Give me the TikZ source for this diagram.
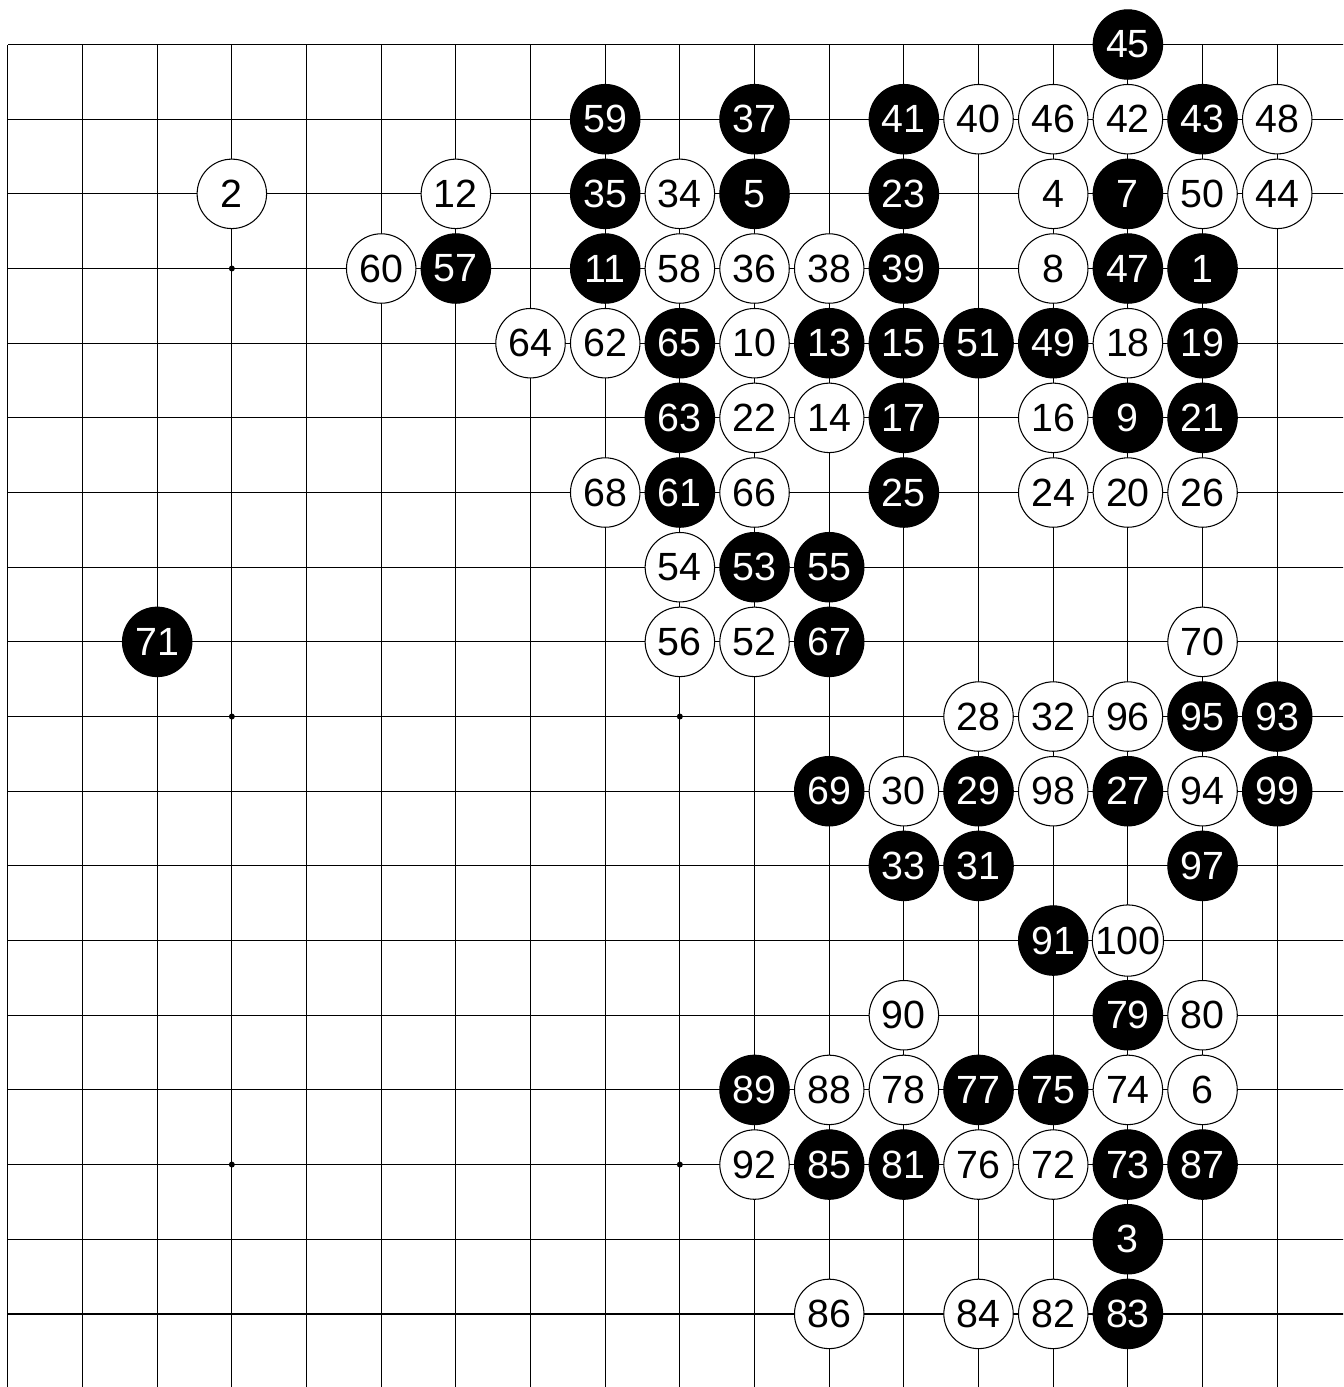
\documentclass[tikz,border=0pt]{standalone}
\usepackage{fontspec}
\setmainfont{Liberation Sans}

\begin{document}
\begin{tikzpicture}

\tikzset{
  board line/.style={
    line width=0.45pt,
  },
  stone/.style={
    circle,
    minimum size=0.93cm,
    inner sep=0pt,
    line width=0.4pt,
    draw=black,
    font=\fontsize{15}{18}\selectfont,
  },
  black stone/.style={stone, fill=black, text=white},
  white stone/.style={stone, fill=white, text=black},
}

% Frame and board
\useasboundingbox (-0.105,0.596) rectangle (17.883,-17.979);
\clip (-0.105,0.596) rectangle (17.883,-17.979);
\draw[board line] (0,-18) grid (18,0);

% Star points
\fill (3,-3) circle (0.04);
\fill (3,-9) circle (0.04);
\fill (9,-9) circle (0.04);
\fill (3,-15) circle (0.04);
\fill (9,-15) circle (0.04);

% Row 0
\node[black stone] (m45) at (15,0) {45};

% Row 1
\node[black stone] (m59) at (8,-1)  {59};
\node[black stone] (m37) at (10,-1) {37};
\node[black stone] (m41) at (12,-1) {41};
\node[white stone] (m40) at (13,-1) {40};
\node[white stone] (m46) at (14,-1) {46};
\node[white stone] (m42) at (15,-1) {42};
\node[black stone] (m43) at (16,-1) {43};
\node[white stone] (m48) at (17,-1) {48};

% Row 2
\node[white stone] (m2)  at (3,-2)  {2};
\node[white stone] (m12) at (6,-2)  {12};
\node[black stone] (m35) at (8,-2)  {35};
\node[white stone] (m34) at (9,-2)  {34};
\node[black stone] (m5)  at (10,-2) {5};
\node[black stone] (m23) at (12,-2) {23};
\node[white stone] (m4)  at (14,-2) {4};
\node[black stone] (m7)  at (15,-2) {7};
\node[white stone] (m50) at (16,-2) {50};
\node[white stone] (m44) at (17,-2) {44};

% Row 3
\node[white stone] (m60) at (5,-3)  {60};
\node[black stone] (m57) at (6,-3)  {57};
\node[black stone] (m11) at (8,-3)  {11};
\node[white stone] (m58) at (9,-3)  {58};
\node[white stone] (m36) at (10,-3) {36};
\node[white stone] (m38) at (11,-3) {38};
\node[black stone] (m39) at (12,-3) {39};
\node[white stone] (m8)  at (14,-3) {8};
\node[black stone] (m47) at (15,-3) {47};
\node[black stone] (m1)  at (16,-3) {1};

% Row 4
\node[white stone] (m64) at (7,-4)  {64};
\node[white stone] (m62) at (8,-4)  {62};
\node[black stone] (m65) at (9,-4)  {65};
\node[white stone] (m10) at (10,-4) {10};
\node[black stone] (m13) at (11,-4) {13};
\node[black stone] (m15) at (12,-4) {15};
\node[black stone] (m51) at (13,-4) {51};
\node[black stone] (m49) at (14,-4) {49};
\node[white stone] (m18) at (15,-4) {18};
\node[black stone] (m19) at (16,-4) {19};

% Row 5
\node[black stone] (m63) at (9,-5)  {63};
\node[white stone] (m22) at (10,-5) {22};
\node[white stone] (m14) at (11,-5) {14};
\node[black stone] (m17) at (12,-5) {17};
\node[white stone] (m16) at (14,-5) {16};
\node[black stone] (m9)  at (15,-5) {9};
\node[black stone] (m21) at (16,-5) {21};

% Row 6
\node[white stone] (m68) at (8,-6)  {68};
\node[black stone] (m61) at (9,-6)  {61};
\node[white stone] (m66) at (10,-6) {66};
\node[black stone] (m25) at (12,-6) {25};
\node[white stone] (m24) at (14,-6) {24};
\node[white stone] (m20) at (15,-6) {20};
\node[white stone] (m26) at (16,-6) {26};

% Row 7
\node[white stone] (m54) at (9,-7)  {54};
\node[black stone] (m53) at (10,-7) {53};
\node[black stone] (m55) at (11,-7) {55};

% Row 8
\node[black stone] (m71) at (2,-8)  {71};
\node[white stone] (m56) at (9,-8)  {56};
\node[white stone] (m52) at (10,-8) {52};
\node[black stone] (m67) at (11,-8) {67};
\node[white stone] (m70) at (16,-8) {70};

% Row 9
\node[white stone] (m28) at (13,-9) {28};
\node[white stone] (m32) at (14,-9) {32};
\node[white stone] (m96) at (15,-9) {96};
\node[black stone] (m95) at (16,-9) {95};
\node[black stone] (m93) at (17,-9) {93};

% Row 10
\node[black stone] (m69) at (11,-10) {69};
\node[white stone] (m30) at (12,-10) {30};
\node[black stone] (m29) at (13,-10) {29};
\node[white stone] (m98) at (14,-10) {98};
\node[black stone] (m27) at (15,-10) {27};
\node[white stone] (m94) at (16,-10) {94};
\node[black stone] (m99) at (17,-10) {99};

% Row 11
\node[black stone] (m33) at (12,-11) {33};
\node[black stone] (m31) at (13,-11) {31};
\node[black stone] (m97) at (16,-11) {97};

% Row 12
\node[black stone] (m91)  at (14,-12) {91};
\node[white stone] (m100) at (15,-12) {100};

% Row 13
\node[white stone] (m90) at (12,-13) {90};
\node[black stone] (m79) at (15,-13) {79};
\node[white stone] (m80) at (16,-13) {80};

% Row 14
\node[black stone] (m89) at (10,-14) {89};
\node[white stone] (m88) at (11,-14) {88};
\node[white stone] (m78) at (12,-14) {78};
\node[black stone] (m77) at (13,-14) {77};
\node[black stone] (m75) at (14,-14) {75};
\node[white stone] (m74) at (15,-14) {74};
\node[white stone] (m6)  at (16,-14) {6};

% Row 15
\node[white stone] (m92) at (10,-15) {92};
\node[black stone] (m85) at (11,-15) {85};
\node[black stone] (m81) at (12,-15) {81};
\node[white stone] (m76) at (13,-15) {76};
\node[white stone] (m72) at (14,-15) {72};
\node[black stone] (m73) at (15,-15) {73};
\node[black stone] (m87) at (16,-15) {87};

% Row 16
\node[black stone] (m3) at (15,-16) {3};

% Row 17
\node[white stone] (m86) at (11,-17) {86};
\node[white stone] (m84) at (13,-17) {84};
\node[white stone] (m82) at (14,-17) {82};
\node[black stone] (m83) at (15,-17) {83};

\end{tikzpicture}
\end{document}
